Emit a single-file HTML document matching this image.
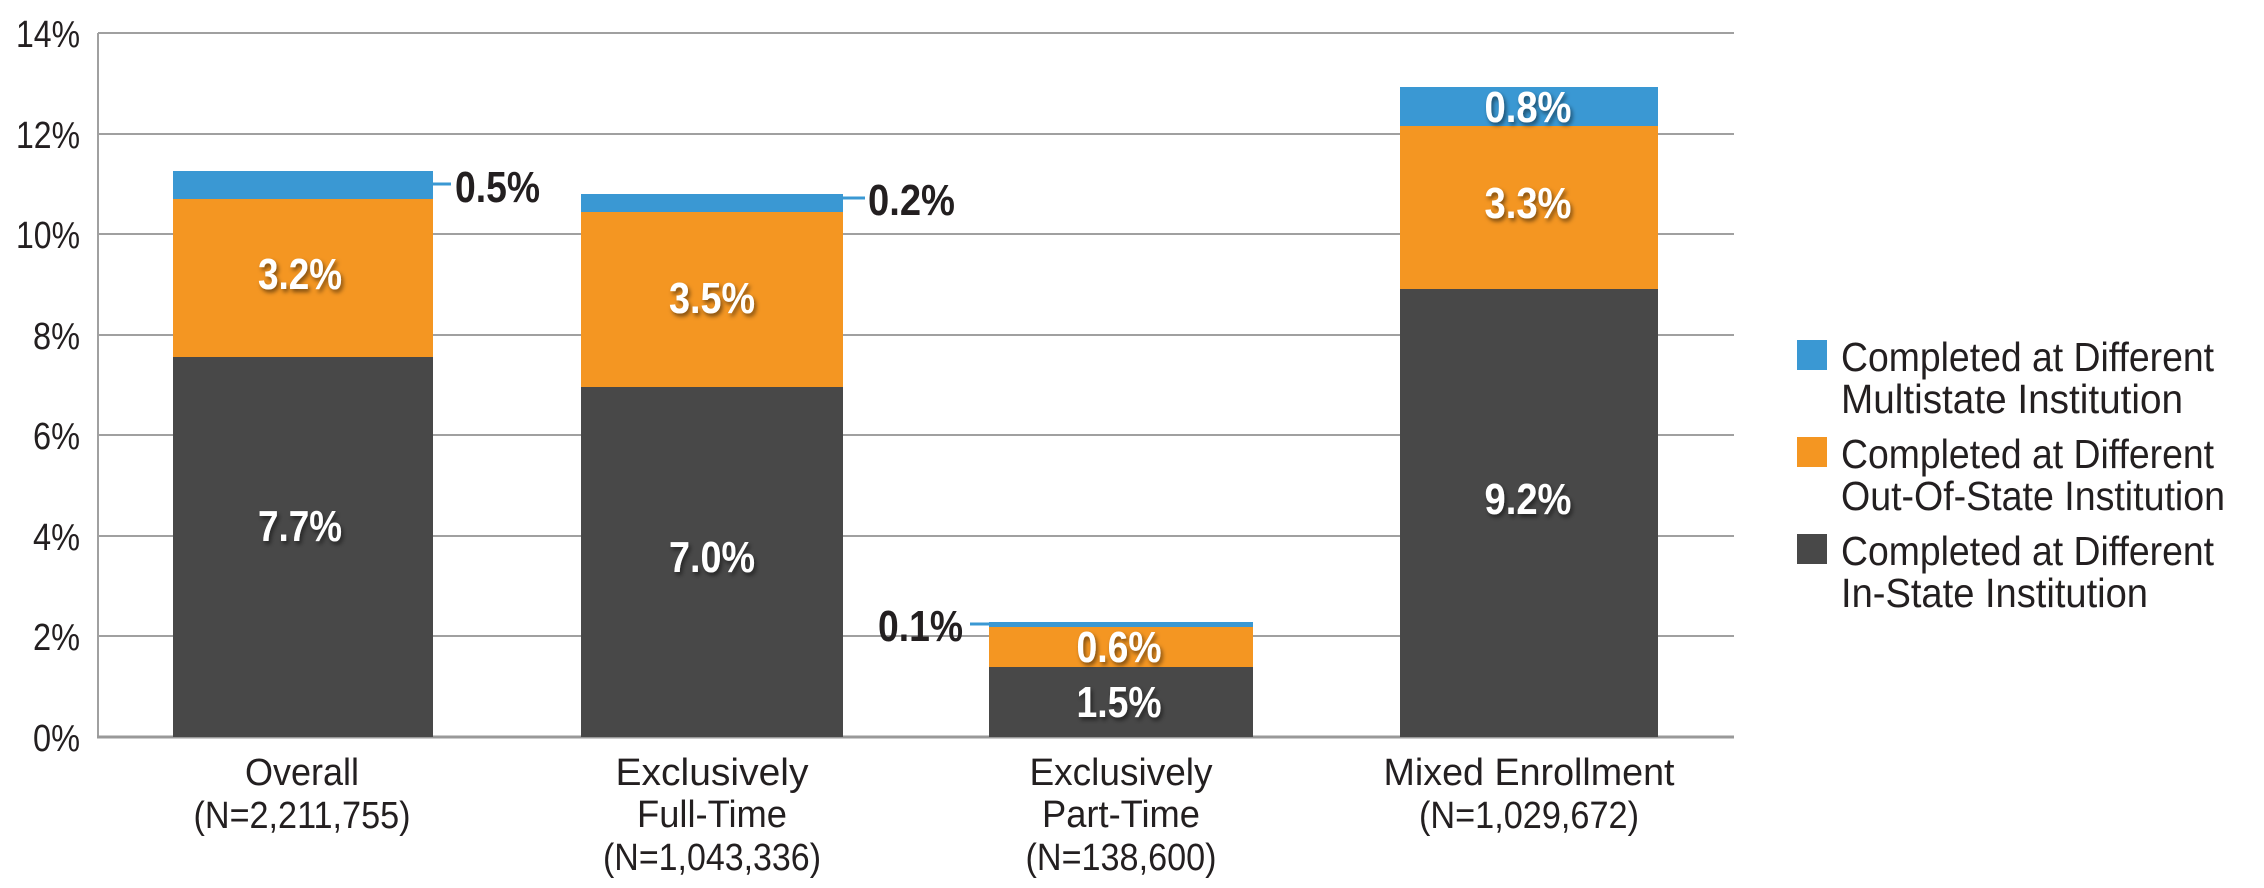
<!DOCTYPE html>
<html><head><meta charset="utf-8"><style>
html,body{margin:0;padding:0;background:#fff;}
svg{display:block;}
text{font-family:"Liberation Sans",sans-serif;}
.y{font-size:38px;fill:#231f20;text-anchor:end;}
.c{font-size:38px;fill:#231f20;text-anchor:middle;}
.d{font-size:44px;font-weight:bold;fill:#fff;text-anchor:middle;filter:url(#sh);}
.o{font-size:44px;font-weight:bold;fill:#231f20;}
.l{font-size:41px;fill:#231f20;}
</style></head><body>
<svg width="2264" height="888" viewBox="0 0 2264 888" xmlns="http://www.w3.org/2000/svg">
<defs><filter id="sh" x="-20%" y="-20%" width="140%" height="140%"><feDropShadow dx="2" dy="3" stdDeviation="2" flood-color="#000" flood-opacity="0.5"/></filter></defs>
<g stroke="#a0a0a0" stroke-width="2">
<line x1="98" y1="33" x2="1734" y2="33"/>
<line x1="98" y1="134" x2="1734" y2="134"/>
<line x1="98" y1="234" x2="1734" y2="234"/>
<line x1="98" y1="335" x2="1734" y2="335"/>
<line x1="98" y1="435" x2="1734" y2="435"/>
<line x1="98" y1="536" x2="1734" y2="536"/>
<line x1="98" y1="636" x2="1734" y2="636"/>
<line x1="98" y1="33" x2="98" y2="738"/>
</g>
<line x1="97" y1="737" x2="1734" y2="737" stroke="#999" stroke-width="3"/>
<g class="y">
<text x="80" y="47" textLength="64" lengthAdjust="spacingAndGlyphs">14%</text>
<text x="80" y="148" textLength="64" lengthAdjust="spacingAndGlyphs">12%</text>
<text x="80" y="248" textLength="64" lengthAdjust="spacingAndGlyphs">10%</text>
<text x="80" y="349" textLength="47" lengthAdjust="spacingAndGlyphs">8%</text>
<text x="80" y="449" textLength="47" lengthAdjust="spacingAndGlyphs">6%</text>
<text x="80" y="550" textLength="47" lengthAdjust="spacingAndGlyphs">4%</text>
<text x="80" y="650" textLength="47" lengthAdjust="spacingAndGlyphs">2%</text>
<text x="80" y="751" textLength="47" lengthAdjust="spacingAndGlyphs">0%</text>
</g>
<rect x="173" y="171" width="260" height="29" fill="#3a98d3"/>
<rect x="173" y="199" width="260" height="158" fill="#f49622"/>
<rect x="173" y="357" width="260" height="380" fill="#484848"/>
<rect x="581" y="194" width="262" height="19" fill="#3a98d3"/>
<rect x="581" y="212" width="262" height="175" fill="#f49622"/>
<rect x="581" y="387" width="262" height="350" fill="#484848"/>
<rect x="989" y="622" width="264" height="6" fill="#3a98d3"/>
<rect x="989" y="627" width="264" height="40" fill="#f49622"/>
<rect x="989" y="667" width="264" height="70" fill="#484848"/>
<rect x="1400" y="87" width="258" height="40" fill="#3a98d3"/>
<rect x="1400" y="126" width="258" height="163" fill="#f49622"/>
<rect x="1400" y="289" width="258" height="448" fill="#484848"/>
<g stroke="#3a98d3" stroke-width="3">
<line x1="433" y1="184" x2="451" y2="184"/>
<line x1="843" y1="198" x2="865" y2="198"/>
<line x1="970" y1="624" x2="989" y2="624"/>
</g>
<g class="o">
<text x="455" y="202" textLength="85" lengthAdjust="spacingAndGlyphs">0.5%</text>
<text x="868" y="215" textLength="87" lengthAdjust="spacingAndGlyphs">0.2%</text>
<text x="878" y="641" textLength="85" lengthAdjust="spacingAndGlyphs">0.1%</text>
</g>
<g class="d">
<text x="300" y="289" textLength="84" lengthAdjust="spacingAndGlyphs">3.2%</text>
<text x="300" y="541" textLength="84" lengthAdjust="spacingAndGlyphs">7.7%</text>
<text x="712" y="313" textLength="86" lengthAdjust="spacingAndGlyphs">3.5%</text>
<text x="712" y="572" textLength="86" lengthAdjust="spacingAndGlyphs">7.0%</text>
<text x="1119" y="662" textLength="85" lengthAdjust="spacingAndGlyphs">0.6%</text>
<text x="1119" y="717" textLength="85" lengthAdjust="spacingAndGlyphs">1.5%</text>
<text x="1528" y="122" textLength="87" lengthAdjust="spacingAndGlyphs">0.8%</text>
<text x="1528" y="218" textLength="87" lengthAdjust="spacingAndGlyphs">3.3%</text>
<text x="1528" y="514" textLength="87" lengthAdjust="spacingAndGlyphs">9.2%</text>
</g>
<g class="c">
<text x="302" y="785" textLength="114" lengthAdjust="spacingAndGlyphs">Overall</text>
<text x="302" y="828" textLength="217" lengthAdjust="spacingAndGlyphs">(N=2,211,755)</text>
<text x="712" y="785" textLength="193" lengthAdjust="spacingAndGlyphs">Exclusively</text>
<text x="712" y="827" textLength="150" lengthAdjust="spacingAndGlyphs">Full-Time</text>
<text x="712" y="870" textLength="218" lengthAdjust="spacingAndGlyphs">(N=1,043,336)</text>
<text x="1121" y="785" textLength="183" lengthAdjust="spacingAndGlyphs">Exclusively</text>
<text x="1121" y="827" textLength="158" lengthAdjust="spacingAndGlyphs">Part-Time</text>
<text x="1121" y="870" textLength="191" lengthAdjust="spacingAndGlyphs">(N=138,600)</text>
<text x="1529" y="785" textLength="291" lengthAdjust="spacingAndGlyphs">Mixed Enrollment</text>
<text x="1529" y="828" textLength="220" lengthAdjust="spacingAndGlyphs">(N=1,029,672)</text>
</g>
<rect x="1797" y="340" width="30" height="30" fill="#3a98d3"/>
<rect x="1797" y="437" width="30" height="30" fill="#f49622"/>
<rect x="1797" y="534" width="30" height="30" fill="#484848"/>
<g class="l">
<text x="1841" y="371" textLength="373" lengthAdjust="spacingAndGlyphs">Completed at Different</text>
<text x="1841" y="413" textLength="342" lengthAdjust="spacingAndGlyphs">Multistate Institution</text>
<text x="1841" y="468" textLength="373" lengthAdjust="spacingAndGlyphs">Completed at Different</text>
<text x="1841" y="510" textLength="384" lengthAdjust="spacingAndGlyphs">Out-Of-State Institution</text>
<text x="1841" y="565" textLength="373" lengthAdjust="spacingAndGlyphs">Completed at Different</text>
<text x="1841" y="607" textLength="307" lengthAdjust="spacingAndGlyphs">In-State Institution</text>
</g>
</svg>
</body></html>
